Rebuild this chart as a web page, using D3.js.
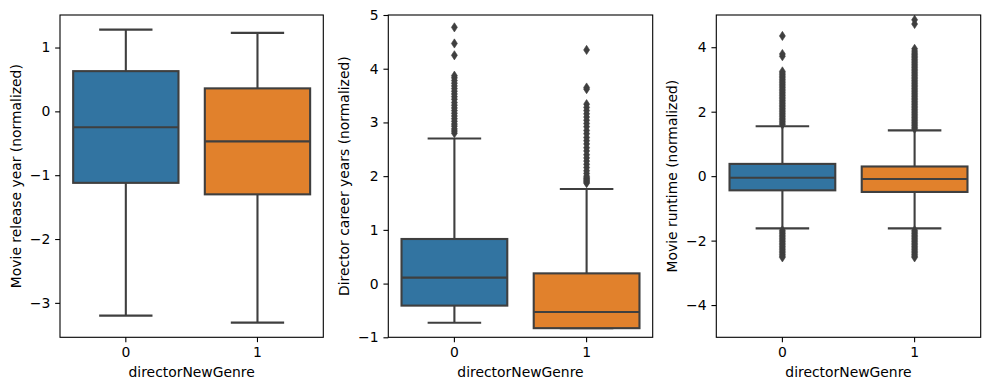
<!DOCTYPE html>
<html>
<head>
<meta charset="utf-8">
<script src="https://cdn.jsdelivr.net/npm/d3@7"></script>
<style>
  body { margin: 0; background: #fff; }
  text { font-family: "DejaVu Sans", sans-serif; }
</style>
</head>
<body>
<div id="chart"></div>
<script>
// categories on the x axis
const categories = ["0", "1"]

// box stats: [lower whisker, q1, median, q3, upper whisker]
const yearBox0 = [-3.20, -1.12, -0.25, 0.63, 1.28]
const yearBox1 = [-3.31, -1.30, -0.47, 0.36, 1.23]
const careerBox0 = [-0.73, -0.41, 0.11, 0.83, 2.70]
const careerBox1 = [-0.83, -0.83, -0.53, 0.19, 1.76]
const runtimeBox0 = [-1.62, -0.44, -0.05, 0.38, 1.55]
const runtimeBox1 = [-1.62, -0.49, -0.09, 0.30, 1.42]

// outliers
const careerOut0 = [2.80, 2.84, 2.88, 2.93, 2.97, 3.02, 3.07, 3.12, 3.17, 3.22, 3.27, 3.32, 3.37,
  3.43, 3.48, 3.53, 3.58, 3.63, 3.68, 3.73, 3.78, 3.83, 3.87, 4.25, 4.47, 4.77]
const careerOut1 = [1.87, 1.89, 1.91, 1.93, 1.95, 1.97, 2.00, 2.05, 2.10, 2.16, 2.22, 2.28, 2.34,
  2.40, 2.47, 2.53, 2.60, 2.66, 2.72, 2.79, 2.85, 2.92, 2.98, 3.04, 3.10, 3.16, 3.22, 3.28, 3.34,
  3.62, 3.65, 4.35]
const runtimeOut0 = [1.60, 1.65, 1.70, 1.75, 1.80, 1.85, 1.90, 1.95, 2.00, 2.05, 2.10, 2.15, 2.20,
  2.25, 2.30, 2.35, 2.40, 2.45, 2.50, 2.55, 2.60, 2.65, 2.70, 2.75, 2.80, 2.85, 2.90, 2.95, 3.00,
  3.05, 3.10, 3.15, 3.20, 3.25, 3.72, 3.79, 4.35,
  -1.68, -1.73, -1.78, -1.83, -1.88, -1.93, -1.98, -2.03, -2.08, -2.13, -2.18, -2.23, -2.28,
  -2.33, -2.38, -2.43, -2.48, -2.52]
const runtimeOut1 = [1.47, 1.52, 1.57, 1.62, 1.67, 1.72, 1.77, 1.82, 1.87, 1.92, 1.97, 2.02, 2.07,
  2.12, 2.17, 2.22, 2.27, 2.32, 2.37, 2.42, 2.47, 2.52, 2.57, 2.62, 2.67, 2.72, 2.77, 2.82, 2.87,
  2.92, 2.97, 3.02, 3.07, 3.12, 3.17, 3.22, 3.27, 3.32, 3.37, 3.42, 3.47, 3.52, 3.57, 3.62, 3.67,
  3.72, 3.77, 3.82, 3.88, 3.95, 4.72, 4.85,
  -1.68, -1.73, -1.78, -1.83, -1.88, -1.93, -1.98, -2.03, -2.08, -2.13, -2.18, -2.23, -2.28,
  -2.33, -2.38, -2.43, -2.48, -2.52]

const yearTicks = [-3, -2, -1, 0, 1]
const careerTicks = [-1, 0, 1, 2, 3, 4, 5]
const runtimeTicks = [-4, -2, 0, 2, 4]

const colors = ["#3274a1", "#e1812c"]
const lineColor = "#3f3f3f"

var width = 989, height = 390
var plotTop = 15, plotBottom = 337.3
var fs = 13.9, tick = 4.86

var svg = d3.select("#chart")
    .append("svg")
    .attr("width", width)
    .attr("height", height)

var panels = [
    { left: 60, right: 323.3, label: "Movie release year (normalized)",
      boxes: [yearBox0, yearBox1], outs: [[], []], ticks: yearTicks, domain: null },
    { left: 388.3, right: 652.7, label: "Director career years (normalized)",
      boxes: [careerBox0, careerBox1], outs: [careerOut0, careerOut1], ticks: careerTicks, domain: [-1, 5] },
    { left: 716.3, right: 980.7, label: "Movie runtime (normalized)",
      boxes: [runtimeBox0, runtimeBox1], outs: [runtimeOut0, runtimeOut1], ticks: runtimeTicks, domain: [-5, 5] }
]

var fmt = d => (d < 0 ? "\u2212" + Math.abs(d) : "" + d)

// thin diamond like matplotlib 'd'
function diamond(h, w) {
    return `M0,${-h / 2}L${w / 2},0L0,${h / 2}L${-w / 2},0Z`
}

panels.forEach(function (p) {
    var domain = p.domain
    if (!domain) {
        // matplotlib autoscale with 5% margins
        var all = p.boxes.flat().concat(p.outs.flat())
        var lo = d3.min(all), hi = d3.max(all), pad = (hi - lo) * 0.05
        domain = [lo - pad, hi + pad]
    }

    var x = d3.scaleBand().domain(categories).range([p.left, p.right]).padding(0)
    var y = d3.scaleLinear().domain(domain).range([plotBottom, plotTop])
    var bw = x.bandwidth()

    var g = svg.append("g")

    // axes
    var xAxis = g.append("g")
        .attr("transform", "translate(0," + plotBottom + ")")
        .call(d3.axisBottom(x).tickSize(tick).tickPadding(tick).tickSizeOuter(0))
    var yAxis = g.append("g")
        .attr("transform", "translate(" + p.left + ",0)")
        .call(d3.axisLeft(y).tickValues(p.ticks).tickFormat(fmt).tickSize(tick).tickPadding(tick).tickSizeOuter(0))

    ;[xAxis, yAxis].forEach(function (a) {
        a.select(".domain").remove()
        a.selectAll("line").attr("stroke", "#000").attr("stroke-width", 1.1)
        a.selectAll("text").attr("font-size", fs).attr("fill", "#000")
            .style("font-family", "DejaVu Sans")
    })

    // boxes
    categories.forEach(function (c, i) {
        var s = p.boxes[i]
        var cx = x(c) + bw / 2
        var boxW = bw * 0.8, capW = bw * 0.405
        var bg = g.append("g")
            .attr("stroke", lineColor)
            .attr("stroke-width", 2.1)

        // whiskers
        bg.append("line").attr("x1", cx).attr("x2", cx).attr("y1", y(s[0])).attr("y2", y(s[1]))
        bg.append("line").attr("x1", cx).attr("x2", cx).attr("y1", y(s[3])).attr("y2", y(s[4]))
        // caps
        bg.append("line").attr("x1", cx - capW / 2).attr("x2", cx + capW / 2).attr("y1", y(s[0])).attr("y2", y(s[0]))
        bg.append("line").attr("x1", cx - capW / 2).attr("x2", cx + capW / 2).attr("y1", y(s[4])).attr("y2", y(s[4]))
        // box
        bg.append("rect")
            .attr("x", cx - boxW / 2)
            .attr("width", boxW)
            .attr("y", y(s[3]))
            .attr("height", y(s[1]) - y(s[3]))
            .attr("fill", colors[i])
        // median
        bg.append("line").attr("x1", cx - boxW / 2).attr("x2", cx + boxW / 2).attr("y1", y(s[2])).attr("y2", y(s[2]))

        // fliers
        g.selectAll(null)
            .data(p.outs[i])
            .enter().append("path")
            .attr("d", diamond(9.2, 6))
            .attr("transform", d => "translate(" + cx + "," + y(d) + ")")
            .attr("fill", lineColor)
            .attr("stroke", lineColor)
            .attr("stroke-width", 0.6)
    })

    // frame
    g.append("rect")
        .attr("x", p.left).attr("y", plotTop)
        .attr("width", p.right - p.left).attr("height", plotBottom - plotTop)
        .attr("fill", "none").attr("stroke", "#000").attr("stroke-width", 1.1)

    // labels
    g.append("text")
        .attr("x", (p.left + p.right) / 2)
        .attr("y", 372)
        .attr("dy", "0.35em")
        .attr("text-anchor", "middle")
        .attr("font-size", fs)
        .text("directorNewGenre")

    g.append("text")
        .attr("transform", "translate(" + (p.left - 44) + "," + ((plotTop + plotBottom) / 2) + ") rotate(-90)")
        .attr("dy", "0.35em")
        .attr("text-anchor", "middle")
        .attr("font-size", fs)
        .text(p.label)
})
</script>
</body>
</html>
